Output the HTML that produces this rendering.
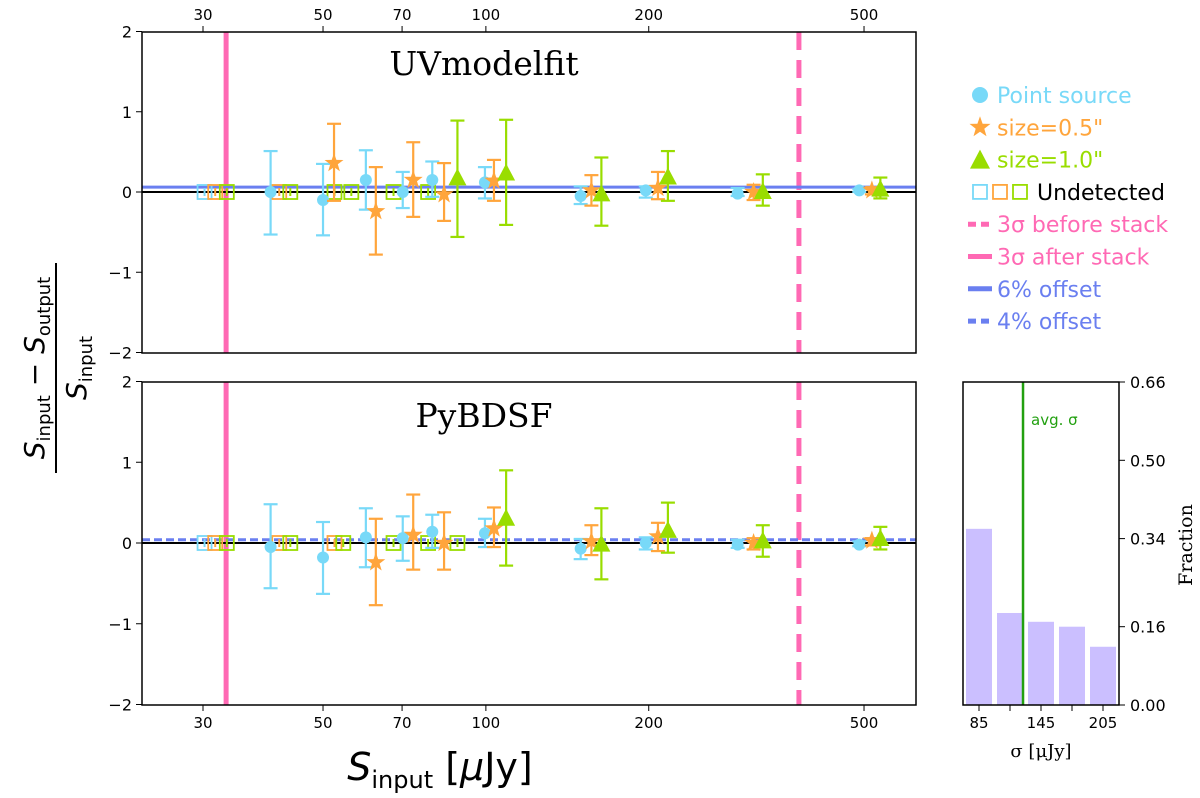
<!DOCTYPE html>
<html><head><meta charset="utf-8"><style>
body{margin:0;background:#fff}
svg text{font-family:"DejaVu Sans","Liberation Sans",sans-serif}
</style></head><body>
<svg id="c" width="1200" height="793" xmlns="http://www.w3.org/2000/svg"></svg>
<script>
const xTicks=[30,50,70,100,200,500];
const topBlueS=[40,50,60,70.2,79.6,99.6,149.7,197.5,292,490];
const topBlueV=[0.0,-0.1,0.15,0.0,0.15,0.12,-0.05,0.02,-0.02,0.02];
const topBlueLo=[-0.53,-0.54,-0.22,-0.2,-0.06,-0.08,-0.15,-0.07,-0.05,0.0];
const topBlueHi=[0.51,0.35,0.52,0.25,0.38,0.31,0.07,0.07,0.05,0.04];
const topOrS=[52.4,62.6,73.4,83.7,103.5,156.7,208,312.5,517];
const topOrV=[0.36,-0.24,0.15,-0.03,0.14,0.02,0.05,0.0,0.02];
const topOrLo=[-0.11,-0.78,-0.31,-0.36,-0.11,-0.17,-0.09,-0.1,-0.03];
const topOrHi=[0.85,0.31,0.62,0.36,0.4,0.21,0.25,0.09,0.06];
const topGrS=[88.6,109,163.5,217,325,536];
const topGrV=[0.17,0.23,-0.03,0.18,0.0,0.03];
const topGrLo=[-0.56,-0.41,-0.42,-0.11,-0.17,-0.08];
const topGrHi=[0.89,0.9,0.43,0.51,0.22,0.18];
const topUndS=[30.2,31.6,33.2,41.5,43.5,52.5,56.4,67.5,78.2];
const topUndC=[0,1,2,1,2,2,2,2,2];
const botBlueS=[40,50,60,70.2,79.6,99.6,149.7,197.5,292,490];
const botBlueV=[-0.05,-0.18,0.07,0.06,0.14,0.12,-0.07,0.0,-0.02,-0.02];
const botBlueLo=[-0.56,-0.63,-0.3,-0.22,-0.06,-0.05,-0.2,-0.08,-0.06,-0.04];
const botBlueHi=[0.48,0.26,0.43,0.33,0.35,0.3,0.05,0.07,0.04,0.02];
const botOrS=[62.6,73.4,83.7,103.5,156.7,208,312.5,517];
const botOrV=[-0.24,0.1,0.0,0.18,0.02,0.08,0.0,0.03];
const botOrLo=[-0.77,-0.33,-0.33,-0.05,-0.15,-0.1,-0.08,-0.03];
const botOrHi=[0.3,0.6,0.38,0.44,0.22,0.25,0.06,0.06];
const botGrS=[109,163.5,217,325,536];
const botGrV=[0.3,-0.02,0.15,0.02,0.05];
const botGrLo=[-0.28,-0.45,-0.12,-0.17,-0.08];
const botGrHi=[0.9,0.43,0.5,0.22,0.2];
const botUndS=[30.2,31.6,33.2,41.5,43.5,52.5,54.5,67.5,78.2,88.6];
const botUndC=[0,1,2,1,2,1,2,2,2,2];
const histX=[85,115,145,175,205];
const histV=[0.36,0.188,0.17,0.16,0.119];
const histTicks=[0,0.16,0.34,0.50,0.66];
const avgSigma=127.6;
const sigBefore=379, sigAfter=33.1;

const NS="http://www.w3.org/2000/svg",svg=document.getElementById('c');
const C=['#78d9f8','#ffa53c','#99dd00'];
const SERIF='font-family:"DejaVu Serif","Liberation Serif",serif';
function el(t,a,p){const e=document.createElementNS(NS,t);for(const k in a)e.setAttribute(k,a[k]);(p||svg).appendChild(e);return e;}
function txt(x,y,s,a,p){const e=el('text',Object.assign({x:x,y:y},a||{}),p);e.textContent=s;return e;}
const X0=142,X1=916;
const sx=s=>203+541*Math.log10(s/30);
function star(x,y,R,r){let p='';for(let k=0;k<10;k++){const rr=k%2?r:R,a=-Math.PI/2+k*Math.PI/5;p+=(x+rr*Math.cos(a)).toFixed(1)+','+(y+rr*Math.sin(a)).toFixed(1)+' ';}return p;}
function panel(top,bot,y0,scale,title,ty,bS,bV,bL,bH,oS,oV,oL,oH,gS,gV,gL,gH,uS,uC,off,dash,topTicks,nm){
 const sy=v=>y0-v*scale;
 const g=el('g',{});
 
 
 const cp=el('clipPath',{id:'cp'+nm},g);el('rect',{x:X0,y:top,width:X1-X0,height:bot-top},cp);
 const d=el('g',{'clip-path':'url(#cp'+nm+')'},g);
 const sb=el('line',{x1:sx(sigAfter),x2:sx(sigAfter),y1:top,y2:bot,stroke:'#ff69b4','stroke-width':5},d);
 
 const sa=el('line',{x1:sx(sigBefore),x2:sx(sigBefore),y1:top,y2:bot,stroke:'#ff69b4','stroke-width':5,'stroke-dasharray':'18,10'},d);
 
 const ol=el('line',{x1:X0,x2:X1,y1:sy(off),y2:sy(off),stroke:'#6a7ff0','stroke-width':3,'stroke-dasharray':dash?'8,4':'none'},d);
 
 el('line',{x1:X0,x2:X1,y1:sy(0),y2:sy(0),stroke:'#000','stroke-width':2},d);
 uS.forEach((s,i)=>{const x=sx(s),c=C[uC[i]];
  el('line',{x1:x,x2:x,y1:sy(0.05),y2:sy(-0.05),stroke:c,'stroke-width':2},d);
  const r=el('rect',{x:x-7,y:sy(0)-7,width:14,height:14,fill:'none',stroke:c,'stroke-width':1.8},d);
  });
 function eb(x,lo,hi,c){el('line',{x1:x,x2:x,y1:sy(lo),y2:sy(hi),stroke:c,'stroke-width':2.2},d);
  [lo,hi].forEach(v=>el('line',{x1:x-7,x2:x+7,y1:sy(v),y2:sy(v),stroke:c,'stroke-width':2.2},d));}
 bS.forEach((s,i)=>{const x=sx(s);eb(x,bL[i],bH[i],C[0]);
  const m=el('circle',{cx:x,cy:sy(bV[i]),r:6,fill:C[0]},d);});
 oS.forEach((s,i)=>{const x=sx(s),y=sy(oV[i]);eb(x,oL[i],oH[i],C[1]);
  const m=el('polygon',{points:star(x,y,10,4),fill:C[1]},d);});
 gS.forEach((s,i)=>{const x=sx(s),y=sy(gV[i]);eb(x,gL[i],gH[i],C[2]);
  const m=el('polygon',{points:`${x},${y-10} ${x-9},${y+7} ${x+9},${y+7}`,fill:C[2]},d);});
 el('rect',{x:X0,y:top,width:X1-X0,height:bot-top,fill:'none',stroke:'#000','stroke-width':1.5},g);
 [2,1,0,-1,-2].forEach(v=>{el('line',{x1:X0-6,x2:X0,y1:sy(v),y2:sy(v),stroke:'#000'},g);
  txt(X0-10,sy(v)+6,v<0?'\u2212'+(-v):String(v),{'text-anchor':'end','font-size':16},g);});
 xTicks.forEach(t=>{const x=sx(t);
  if(topTicks){el('line',{x1:x,x2:x,y1:top,y2:top-6,stroke:'#000'},g);txt(x,top-12,String(t),{'text-anchor':'middle','font-size':15},g);}
  else{el('line',{x1:x,x2:x,y1:bot,y2:bot+6,stroke:'#000'},g);txt(x,bot+23,String(t),{'text-anchor':'middle','font-size':15},g);}});
 const tt=txt(484,ty,title,{'text-anchor':'middle','font-size':33,style:SERIF},g);
 
}
panel(32,353,192,80.25,'UVmodelfit',75,topBlueS,topBlueV,topBlueLo,topBlueHi,topOrS,topOrV,topOrLo,topOrHi,topGrS,topGrV,topGrLo,topGrHi,topUndS,topUndC,0.06,false,true,'top-panel');
panel(382,705,543,80.75,'PyBDSF',427,botBlueS,botBlueV,botBlueLo,botBlueHi,botOrS,botOrV,botOrLo,botOrHi,botGrS,botGrV,botGrLo,botGrHi,botUndS,botUndC,0.04,true,false,'bottom-panel');
// histogram
const HX0=963,HX1=1119,HT=382,HB=705;
const hx=s=>979+(s-85)*31/30, hy=v=>HB-v*(HB-HT)/0.66;
const hg=el('g',{});


histX.forEach((s,i)=>{const b=el('rect',{x:hx(s)-13,y:hy(histV[i]),width:26,height:HB-hy(histV[i]),fill:'#cbbfff'},hg);
 });
const al=el('line',{x1:hx(avgSigma),x2:hx(avgSigma),y1:HT,y2:HB,stroke:'#22a010','stroke-width':2.5},hg);

txt(hx(avgSigma)+8,HT+43,'avg. \u03c3',{'font-size':15,fill:'#22a010'},hg);
el('rect',{x:HX0,y:HT,width:HX1-HX0,height:HB-HT,fill:'none',stroke:'#000','stroke-width':1.5},hg);
histTicks.forEach(v=>{el('line',{x1:HX1,x2:HX1+6,y1:hy(v),y2:hy(v),stroke:'#000'},hg);txt(HX1+11,hy(v)+6,v.toFixed(2),{'font-size':16},hg);});
histX.forEach((s,i)=>{el('line',{x1:hx(s),x2:hx(s),y1:HB,y2:HB+6,stroke:'#000'},hg);if(i%2==0)txt(hx(s),HB+23,String(s),{'text-anchor':'middle','font-size':15},hg);});
txt(1041,757,'\u03c3 [\u03bcJy]',{'text-anchor':'middle','font-size':18,style:SERIF},hg);
txt(0,0,'Fraction',{'font-size':19,style:SERIF,'text-anchor':'middle',transform:'translate(1192,545) rotate(-90)'},hg);
// axis labels
const xl=txt(440,780,'',{'text-anchor':'middle','font-size':38});

xl.innerHTML='<tspan font-style="italic">S</tspan><tspan font-size="24" dy="8">input</tspan><tspan dy="-8"> [</tspan><tspan font-style="italic">\u03bc</tspan><tspan>Jy]</tspan>';
const yl=el('g',{transform:'translate(50,368) rotate(-90)'});


const n=txt(0,-6,'',{'text-anchor':'middle','font-size':28},yl);
n.innerHTML='<tspan font-style="italic">S</tspan><tspan font-size="18" dy="6">input</tspan><tspan dy="-6"> \u2212 </tspan><tspan font-style="italic">S</tspan><tspan font-size="18" dy="6">output</tspan>';
el('line',{x1:-105,x2:105,y1:6,y2:6,stroke:'#000','stroke-width':2},yl);
const dn=txt(0,36,'',{'text-anchor':'middle','font-size':28},yl);
dn.innerHTML='<tspan font-style="italic">S</tspan><tspan font-size="18" dy="6">input</tspan>';
// legend
const lg=el('g',{});


const L=[['Point source',C[0],'c'],['size=0.5"',C[1],'s'],['size=1.0"',C[2],'t'],['Undetected','#000','u'],['3\u03c3 before stack','#ff69b4','d'],['3\u03c3 after stack','#ff69b4','l'],['6% offset','#6a7ff0','l'],['4% offset','#6a7ff0','d']];
L.forEach((it,i)=>{const y=95+i*32.3,x=980;
 if(it[2]=='c')el('circle',{cx:x,cy:y,r:8,fill:C[0]},lg);
 if(it[2]=='s')el('polygon',{points:star(x,y,11,4.5),fill:C[1]},lg);
 if(it[2]=='t')el('polygon',{points:`${x},${y-10} ${x-10},${y+9} ${x+10},${y+9}`,fill:C[2]},lg);
 if(it[2]=='u')C.forEach((c,k)=>el('rect',{x:973+k*20,y:y-7,width:14,height:14,fill:'none',stroke:c,'stroke-width':1.8},lg));
 if(it[2]=='l')el('line',{x1:968,x2:992,y1:y,y2:y,stroke:it[1],'stroke-width':5},lg);
 if(it[2]=='d')el('line',{x1:968,x2:994,y1:y,y2:y,stroke:it[1],'stroke-width':5,'stroke-dasharray':'8,5'},lg);
 const t=txt(it[2]=='u'?1037:997,y+8,it[0],{'font-size':22,fill:it[1]},lg);
 
});
</script>
</body></html>
